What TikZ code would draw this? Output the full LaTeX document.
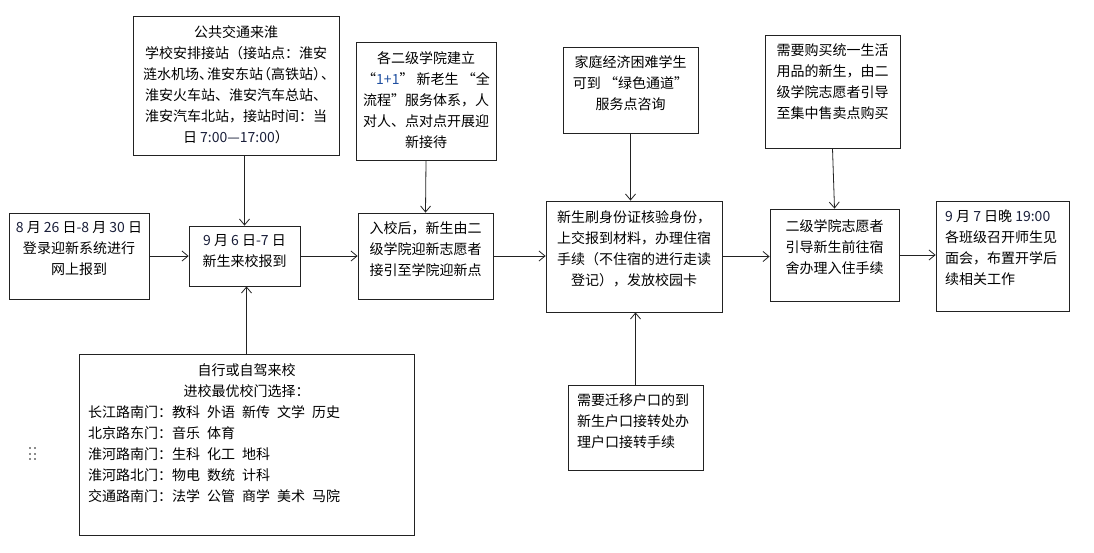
\documentclass[tikz,border=0pt]{standalone}
\usepackage{fontspec}
\setmainfont{Noto Sans CJK SC}
\usetikzlibrary{arrows.meta}
\definecolor{numc}{HTML}{1A1F3A}
\definecolor{onec}{HTML}{1F4FA0}
\definecolor{linec}{HTML}{222222}
\newcommand\dg[1]{\textcolor{numc}{#1}}
\newcommand\hsp{\hspace{7pt}}
\begin{document}
\begin{tikzpicture}[x=1pt,y=-1pt,
  box/.style={draw=linec, line width=0.8pt, inner sep=0pt},
  txt/.style={inner sep=0pt, font=\fontsize{14}{21}\selectfont, align=center, anchor=north},
  txtl/.style={txt, align=left, anchor=north west},
  arr/.style={draw=linec, line width=0.8pt, -{Straight Barb[length=6pt,width=10pt]}},
  dotm/.style={fill=black!45, inner sep=0pt, minimum size=2pt}]
\useasboundingbox[fill=white] (0,0) rectangle (1094,552);

% boxes
\node[box, minimum width=140pt, minimum height=86pt]  (A) at (79,256) {};
\node[box, minimum width=206pt, minimum height=139pt] (B) at (236,85.5) {};
\node[box, minimum width=111pt, minimum height=60pt]  (C) at (244.5,256) {};
\node[box, minimum width=140pt, minimum height=118pt] (D) at (426,101) {};
\node[box, minimum width=135pt, minimum height=86pt]  (E) at (425.5,256) {};
\node[box, minimum width=135pt, minimum height=86pt]  (F) at (630.5,90) {};
\node[box, minimum width=176pt, minimum height=111pt] (G) at (634,256.5) {};
\node[box, minimum width=135pt, minimum height=113pt] (H) at (832.5,91.5) {};
\node[box, minimum width=129pt, minimum height=92pt]  (I) at (834.5,255) {};
\node[box, minimum width=133pt, minimum height=110pt] (J) at (1002.5,256) {};
\node[box, minimum width=335pt, minimum height=181pt] (K) at (246.5,444.5) {};
\node[box, minimum width=135pt, minimum height=85pt]  (L) at (635.5,427.5) {};

% texts
\node[txt] (At) at (79,221) {\dg{8} 月 \dg{26} 日\dg{-8} 月 \dg{30} 日\\登录迎新系统进行\\网上报到};
\node[txt] (Bt) at (236,25) {公共交通来淮\\学校安排接站（接站点：淮安\\涟水机场、\kern-6pt淮安东站\kern-6pt（高铁站）\kern-6pt、\kern-6pt\\淮安火车站、淮安汽车总站、\\淮安汽车北站，接站时间：当\\日 \dg{7:00—17:00}）};
\node[txt] (Ct) at (244.5,234) {\dg{9} 月 \dg{6} 日\dg{-7} 日\\新生来校报到};
\node[txt] (Dt) at (426,51) {各二级学院建立\\“\textcolor{onec}{1+1}” 新老生 “全\\流程”服务体系，人\\对人、点对点开展迎\\新接待};
\node[txt] (Et) at (425.5,221) {入校后，新生由二\\级学院迎新志愿者\\接引至学院迎新点};
\node[txt] (Ft) at (630.5,55) {家庭经济困难学生\\可到 “绿色通道”\\服务点咨询};
\node[txt] (Gt) at (634,210) {新生刷身份证核验身份，\\上交报到材料，办理住宿\\手续（不住宿的进行走读\\登记），发放校园卡};
\node[txt] (Ht) at (832.5,43) {需要购买统一生活\\用品的新生，由二\\级学院志愿者引导\\至集中售卖点购买};
\node[txt] (It) at (834.5,219) {二级学院志愿者\\引导新生前往宿\\舍办理入住手续};
\node[txtl] (Jt) at (945,210) {\dg{9} 月 \dg{7} 日晚 \dg{19:00}\\各班级召开师生见\\面会，布置开学后\\续相关工作};
\node[txt] (Kt1) at (246.5,363) {自行或自驾来校\\进校最优校门选择：};
\node[txtl] (Kt2) at (88,405) {长江路南门：教科\hsp 外语\hsp 新传\hsp 文学\hsp 历史\\北京路东门：音乐\hsp 体育\\淮河路南门：生科\hsp 化工\hsp 地科\\淮河路北门：物电\hsp 数统\hsp 计科\\交通路南门：法学\hsp 公管\hsp 商学\hsp 美术\hsp 马院};
\node[txtl] (Lt) at (577,393) {需要迁移户口的到\\新生户口接转处办\\理户口接转手续};

% connectors
\draw[arr] (A.east) -- (C.west);
\draw[arr] (C.north |- B.south) -- (C.north);
\draw[arr] (K.north) -- (K.north |- C.south);
\draw[arr] (C.east) -- (E.west);
\draw[arr] (D.south) -- (E.north);
\draw[arr] (E.east) -- (E.east -| G.west);
\draw[arr] (F.south) -- (F.south |- G.north);
\draw[arr] (L.north) -- (L.north |- G.south);
\draw[arr] (G.east) -- (G.east -| I.west);
\draw[arr] (H.south) -- (I.north);
\draw[arr] (I.east) -- (I.east -| J.west);

% small handle dots
\foreach \i in {0,1} \foreach \j in {0,1,2}
  \node[dotm] (dot\i\j) at (30+5*\i, 448+5.5*\j) {};
\end{tikzpicture}
\end{document}
